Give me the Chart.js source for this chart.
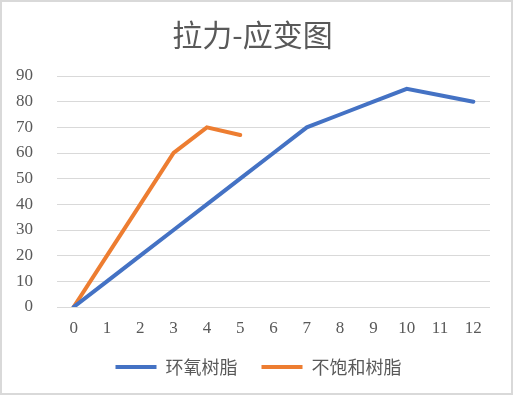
<!DOCTYPE html>
<html>
<head>
<meta charset="utf-8">
<script src="https://cdn.jsdelivr.net/npm/chart.js@4"></script>
<style>
  body { margin: 0; background: #fff; }
  #wrap { width: 513px; height: 395px; }
</style>
</head>
<body>
<div id="wrap"><canvas id="chartCanvas"></canvas></div>
<script>
const categories = ['0', '1', '2', '3', '4', '5', '6', '7', '8', '9', '10', '11', '12'];
const epoxy = [0, 10, 20, 30, 40, 50, 60, 70, 75, 80, 85, 82.5, 80];      // 环氧树脂
const unsaturated = [0, 20, 40, 60, 70, 67];                               // 不饱和树脂

const tickFont = { family: '"Liberation Serif", serif', size: 17 };
const cjkFont = '"Noto Sans CJK SC", sans-serif';

// white background + thin grey frame
const frame = {
  id: 'frame',
  afterLayout(chart) {
    // legend sits a bit right of centre in the original
    chart.legend.left += 6;
    chart.legend.right += 6;
  },
  beforeDraw(chart) {
    const c = chart.ctx;
    c.save();
    c.fillStyle = '#fff';
    c.fillRect(0, 0, chart.width, chart.height);
    c.strokeStyle = '#d9d9d9';
    c.lineWidth = 2;
    c.strokeRect(1, 1, chart.width - 2, chart.height - 2);
    c.restore();
  }
};

const ctx = document.getElementById('chartCanvas').getContext('2d');
new Chart(ctx, {
  type: 'line',
  data: {
    labels: categories,
    datasets: [{
      label: '环氧树脂',
      data: epoxy,
      borderColor: '#4472C4',
      backgroundColor: '#4472C4',
      borderWidth: 4,
      borderCapStyle: 'round',
      pointRadius: 0,
      tension: 0
    }, {
      label: '不饱和树脂',
      data: unsaturated,
      borderColor: '#ED7D31',
      backgroundColor: '#ED7D31',
      borderWidth: 4,
      borderCapStyle: 'round',
      pointRadius: 0,
      tension: 0
    }]
  },
  options: {
    responsive: true,
    maintainAspectRatio: false,
    animation: false,
    layout: { padding: { left: 15, right: 23, top: 0, bottom: 9 } },
    plugins: {
      title: {
        display: true,
        text: '拉力-应变图',
        color: '#595959',
        font: { family: cjkFont, size: 30, weight: 'normal' },
        padding: { top: 17, bottom: 23 }
      },
      legend: {
        position: 'bottom',
        labels: {
          color: '#595959',
          font: { family: cjkFont, size: 18 },
          boxWidth: 41,
          boxHeight: 4,
          padding: 24,
          generateLabels(chart) {
            const items = Chart.defaults.plugins.legend.labels.generateLabels(chart);
            items.forEach(it => { it.lineWidth = 0; });
            return items;
          }
        }
      },
      tooltip: { enabled: false }
    },
    scales: {
      x: {
        offset: true,
        grid: { display: false, drawTicks: false },
        border: { display: false },
        ticks: { color: '#595959', font: tickFont, padding: 11, maxRotation: 0 },
        afterFit(scale) { scale.height = 27; }
      },
      y: {
        min: 0,
        max: 90,
        grid: { color: '#d9d9d9', drawTicks: false },
        border: { display: false },
        ticks: { color: '#595959', font: tickFont, stepSize: 10, padding: 24 },
        afterFit(scale) { scale.width = 42; }
      }
    }
  },
  plugins: [frame]
});
</script>
</body>
</html>
